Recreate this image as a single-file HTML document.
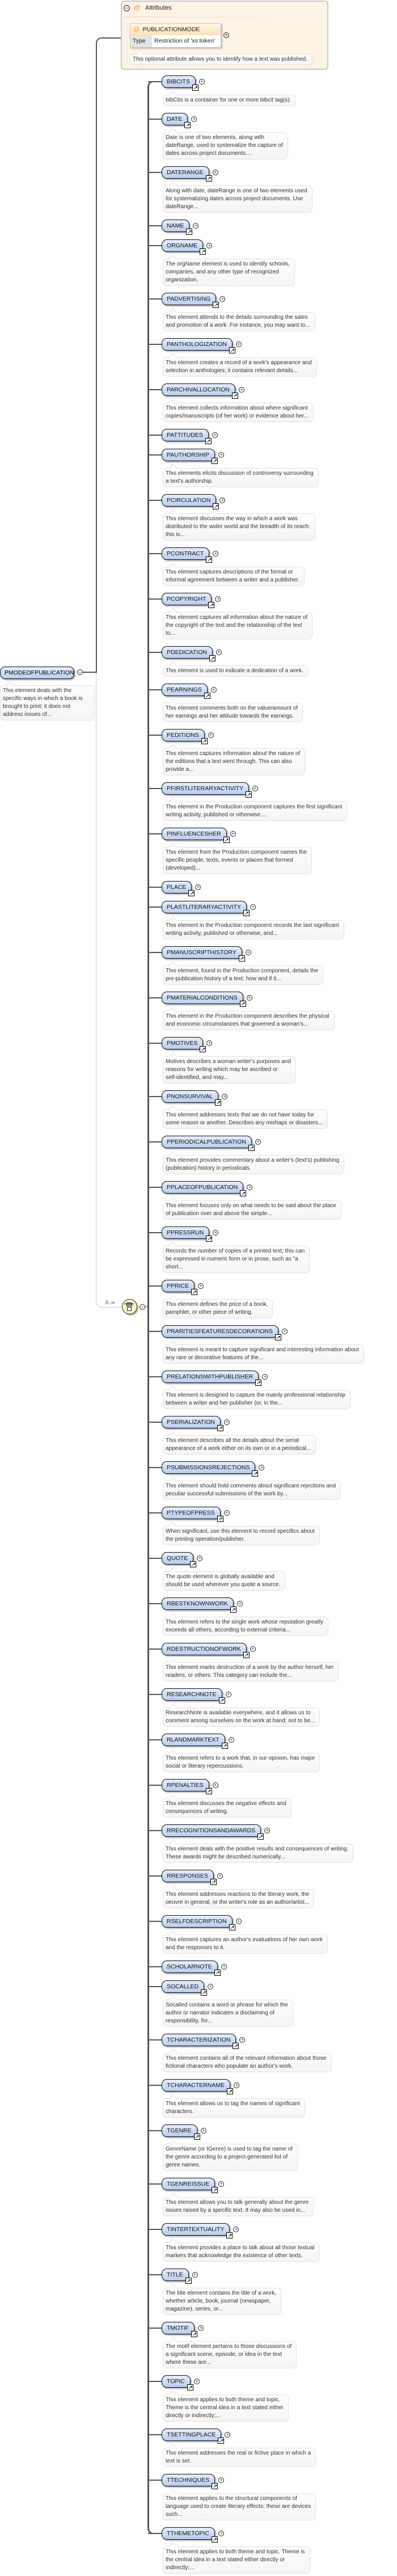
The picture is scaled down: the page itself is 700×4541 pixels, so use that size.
<!DOCTYPE html>
<html><head><meta charset="utf-8">
<style>
html,body{margin:0;padding:0;background:#fff;}
body{width:700px;height:4541px;position:relative;overflow:hidden;font-family:"Liberation Sans",Arial,sans-serif;}
.e{position:absolute;left:285px;height:22px;}
.e:before{content:"";position:absolute;left:-24px;top:10px;width:24px;height:2px;background:#555;}
.b{position:relative;display:inline-block;height:20px;line-height:20px;padding:0 9px 0 8px;border:1px solid #111;border-radius:9px 9px 9px 9px;background:linear-gradient(#e6eefb,#b9cdef);font-size:10.5px;color:#111;white-space:nowrap;box-shadow:2px 2px 2px #aaa;}
.ar{position:absolute;right:-6px;top:15px;width:9px;height:9px;border:1px solid #000;background:#fff;font-size:8px;line-height:9px;text-align:center;font-weight:bold;color:#000;}
.pl{position:absolute;right:-17px;top:5px;width:8px;height:8px;border:1px solid #222;border-radius:50%;background:#fff;font-size:8px;line-height:8px;text-align:center;color:#222;}
.d{position:absolute;left:287px;padding:2px 8px 2px 4px;border:1px solid #e2e2e2;border-radius:7px;background:linear-gradient(#fdfdfd,#f5f5f5);font-size:10px;line-height:14px;color:#333;white-space:nowrap;}
.d:before{content:"";position:absolute;left:12px;top:-6px;width:9px;height:9px;background:#fcfcfc;border-left:1px solid #e2e2e2;border-top:1px solid #e2e2e2;transform:rotate(45deg);}
</style></head><body>

<!-- attributes box -->
<div style="position:absolute;left:213px;top:1px;width:362px;height:118px;background:#fdf3e4;border:2px solid #c9c9c9;border-radius:6px;"></div>
<div style="position:absolute;left:218px;top:9px;width:9px;height:9px;border:1px solid #222;border-radius:50%;font-size:9px;line-height:8px;text-align:center;">−</div>
<div style="position:absolute;left:236px;top:8px;font-size:11px;color:#e8a030;">@</div>
<div style="position:absolute;left:256px;top:8px;font-size:11px;color:#222;">Attributes</div>
<div style="position:absolute;left:218px;top:29px;width:270px;height:2px;background:linear-gradient(90deg,#efe4d2,#fdf3e4);"></div>
<div style="position:absolute;left:229px;top:41px;width:159px;height:41px;border:1px solid #c8c8c8;box-shadow:2px 2px 2px #bbb;background:#fff;">
 <div style="height:20px;background:linear-gradient(#fef6e6,#fde2b4);font-size:10.5px;line-height:20px;color:#222;white-space:nowrap;"><span style="color:#e8a030;margin:0 6px 0 5px;">@</span>PUBLICATIONMODE</div>
 <div style="height:21px;font-size:10.5px;line-height:21px;color:#222;white-space:nowrap;"><span style="display:inline-block;width:34px;background:#e4e4e4;padding-left:4px;margin-right:4px;">Type</span>Restriction of 'xs:token'</div>
</div>
<div style="position:absolute;left:394px;top:57px;width:8px;height:8px;border:1px solid #222;border-radius:50%;font-size:8px;line-height:8px;text-align:center;">+</div>
<div class="d" style="left:229px;top:95px;">This optional attribute allows you to identify how a text was published.</div>

<!-- left connectors -->
<div style="position:absolute;left:169px;top:66px;width:44px;height:1120px;border-left:2px solid #555;border-top:2px solid #555;border-top-left-radius:10px;box-sizing:border-box;"></div>
<div style="position:absolute;left:169px;top:1185px;width:46px;height:1120px;border-left:1px solid #c8c8c8;border-bottom:1px solid #c8c8c8;border-bottom-left-radius:10px;box-sizing:border-box;"></div>
<div style="position:absolute;left:146px;top:1184px;width:24px;height:2px;background:#555;"></div>

<!-- root element -->
<div style="position:absolute;left:0;top:1175px;height:20px;line-height:20px;width:122px;padding-left:7px;border:1px solid #111;border-radius:9px;background:linear-gradient(#e6eefb,#b9cdef);font-size:10.5px;box-shadow:2px 2px 2px #aaa;white-space:nowrap;">PMODEOFPUBLICATION</div>
<div style="position:absolute;left:136px;top:1180px;width:8px;height:8px;border:1px solid #222;border-radius:50%;font-size:9px;line-height:8px;text-align:center;background:#fff;">−</div>
<div class="d" style="left:0;top:1208px;padding-right:20px;">This element deals with the<br>specific ways in which a book is<br>brought to print; it does not<br>address issues of...</div>

<!-- compositor -->
<div style="position:absolute;left:186px;top:2291px;font-size:9px;color:#333;">0..∞</div>
<div style="position:absolute;left:215px;top:2290px;width:25px;height:25px;border:1px solid #333;border-radius:50%;background:#f8f3c6;box-shadow:2px 2px 2px #aaa;"></div>
<div style="position:absolute;left:223px;top:2296px;width:8px;height:5px;background:#999;border:1px solid #444;"></div>
<div style="position:absolute;left:219px;top:2298px;width:17px;height:1px;background:#222;"></div>
<div style="position:absolute;left:224px;top:2304px;width:6px;height:5px;border:1px solid #222;background:#fff;"></div>
<div style="position:absolute;left:246px;top:2299px;width:8px;height:8px;border:1px solid #222;border-radius:50%;font-size:9px;line-height:8px;text-align:center;background:#fff;">−</div>
<div style="position:absolute;left:256px;top:2303px;width:5px;height:1px;background:#555;"></div>

<!-- children vertical line -->
<div style="position:absolute;left:260px;top:143px;width:25px;height:4324px;border-left:3px solid #555;border-top:2px solid #555;border-bottom:2px solid #555;border-radius:10px 0 0 10px;box-sizing:border-box;"></div>

<div class="e" style="top:133px"><span class="b">BIBCITS<i class="ar">↗</i><i class="pl">+</i></span></div>
<div class="d" style="top:167px">bibCits is a container for one or more bibcit tag(s).</div>
<div class="e" style="top:199px"><span class="b">DATE<i class="ar">↗</i><i class="pl">+</i></span></div>
<div class="d" style="top:233px">Date is one of two elements, along with<br>dateRange, used to systematize the capture of<br>dates across project documents....</div>
<div class="e" style="top:293px"><span class="b">DATERANGE<i class="ar">↗</i><i class="pl">+</i></span></div>
<div class="d" style="top:327px">Along with date, dateRange is one of two elements used<br>for systematizing dates across project documents. Use<br>dateRange...</div>
<div class="e" style="top:387px"><span class="b">NAME<i class="ar">↗</i><i class="pl">+</i></span></div>
<div class="e" style="top:422px"><span class="b">ORGNAME<i class="ar">↗</i><i class="pl">+</i></span></div>
<div class="d" style="top:456px">The orgName element is used to identify schools,<br>companies, and any other type of recognized<br>organization.</div>
<div class="e" style="top:516px"><span class="b">PADVERTISING<i class="ar">↗</i><i class="pl">+</i></span></div>
<div class="d" style="top:550px">This element attends to the details surrounding the sales<br>and promotion of a work. For instance, you may want to...</div>
<div class="e" style="top:596px"><span class="b">PANTHOLOGIZATION<i class="ar">↗</i><i class="pl">+</i></span></div>
<div class="d" style="top:630px">This element creates a record of a work's appearance and<br>selection in anthologies; it contains relevant details...</div>
<div class="e" style="top:676px"><span class="b">PARCHIVALLOCATION<i class="ar">↗</i><i class="pl">+</i></span></div>
<div class="d" style="top:710px">This element collects information about where significant<br>copies/manuscripts (of her work) or evidence about her...</div>
<div class="e" style="top:756px"><span class="b">PATTITUDES<i class="ar">↗</i><i class="pl">+</i></span></div>
<div class="e" style="top:791px"><span class="b">PAUTHORSHIP<i class="ar">↗</i><i class="pl">+</i></span></div>
<div class="d" style="top:825px">This elements elicits discussion of controversy surrounding<br>a text's authorship.</div>
<div class="e" style="top:871px"><span class="b">PCIRCULATION<i class="ar">↗</i><i class="pl">+</i></span></div>
<div class="d" style="top:905px">This element discusses the way in which a work was<br>distributed to the wider world and the breadth of its reach:<br>this is...</div>
<div class="e" style="top:965px"><span class="b">PCONTRACT<i class="ar">↗</i><i class="pl">+</i></span></div>
<div class="d" style="top:999px">This element captures descriptions of the formal or<br>informal agreement between a writer and a publisher.</div>
<div class="e" style="top:1045px"><span class="b">PCOPYRIGHT<i class="ar">↗</i><i class="pl">+</i></span></div>
<div class="d" style="top:1079px">This element captures all information about the nature of<br>the copyright of the text and the relationship of the text<br>to...</div>
<div class="e" style="top:1139px"><span class="b">PDEDICATION<i class="ar">↗</i><i class="pl">+</i></span></div>
<div class="d" style="top:1173px">This element is used to indicate a dedication of a work.</div>
<div class="e" style="top:1205px"><span class="b">PEARNINGS<i class="ar">↗</i><i class="pl">+</i></span></div>
<div class="d" style="top:1239px">This element comments both on the value/amount of<br>her earnings and her attitude towards the earnings.</div>
<div class="e" style="top:1285px"><span class="b">PEDITIONS<i class="ar">↗</i><i class="pl">+</i></span></div>
<div class="d" style="top:1319px">This element captures information about the nature of<br>the editions that a text went through. This can also<br>provide a...</div>
<div class="e" style="top:1379px"><span class="b">PFIRSTLITERARYACTIVITY<i class="ar">↗</i><i class="pl">+</i></span></div>
<div class="d" style="top:1413px">This element in the Production component captures the first significant<br>writing activity, published or otherwise....</div>
<div class="e" style="top:1459px"><span class="b">PINFLUENCESHER<i class="ar">↗</i><i class="pl">+</i></span></div>
<div class="d" style="top:1493px">This element from the Production component names the<br>specific people, texts, events or places that formed<br>(developed)...</div>
<div class="e" style="top:1553px"><span class="b">PLACE<i class="ar">↗</i><i class="pl">+</i></span></div>
<div class="e" style="top:1588px"><span class="b">PLASTLITERARYACTIVITY<i class="ar">↗</i><i class="pl">+</i></span></div>
<div class="d" style="top:1622px">This element in the Production component records the last significant<br>writing activity, published or otherwise, and...</div>
<div class="e" style="top:1668px"><span class="b">PMANUSCRIPTHISTORY<i class="ar">↗</i><i class="pl">+</i></span></div>
<div class="d" style="top:1702px">This element, found in the Production component, details the<br>pre-publication history of a text: how and if it...</div>
<div class="e" style="top:1748px"><span class="b">PMATERIALCONDITIONS<i class="ar">↗</i><i class="pl">+</i></span></div>
<div class="d" style="top:1782px">This element in the Production component describes the physical<br>and economic circumstances that governed a woman's...</div>
<div class="e" style="top:1828px"><span class="b">PMOTIVES<i class="ar">↗</i><i class="pl">+</i></span></div>
<div class="d" style="top:1862px">Motives describes a woman writer's purposes and<br>reasons for writing which may be ascribed or<br>self-identified, and may...</div>
<div class="e" style="top:1922px"><span class="b">PNONSURVIVAL<i class="ar">↗</i><i class="pl">+</i></span></div>
<div class="d" style="top:1956px">This element addresses texts that we do not have today for<br>some reason or another. Describes any mishaps or disasters...</div>
<div class="e" style="top:2002px"><span class="b">PPERIODICALPUBLICATION<i class="ar">↗</i><i class="pl">+</i></span></div>
<div class="d" style="top:2036px">This element provides commentary about a writer's (text's) publishing<br>(publication) history in periodicals.</div>
<div class="e" style="top:2082px"><span class="b">PPLACEOFPUBLICATION<i class="ar">↗</i><i class="pl">+</i></span></div>
<div class="d" style="top:2116px">This element focuses only on what needs to be said about the place<br>of publication over and above the simple...</div>
<div class="e" style="top:2162px"><span class="b">PPRESSRUN<i class="ar">↗</i><i class="pl">+</i></span></div>
<div class="d" style="top:2196px">Records the number of copies of a printed text; this can<br>be expressed in numeric form or in prose, such as "a<br>short...</div>
<div class="e" style="top:2256px"><span class="b">PPRICE<i class="ar">↗</i><i class="pl">+</i></span></div>
<div class="d" style="top:2290px">This element defines the price of a book,<br>pamphlet, or other piece of writing.</div>
<div class="e" style="top:2336px"><span class="b">PRARITIESFEATURESDECORATIONS<i class="ar">↗</i><i class="pl">+</i></span></div>
<div class="d" style="top:2370px">This element is meant to capture significant and interesting information about<br>any rare or decorative features of the...</div>
<div class="e" style="top:2416px"><span class="b">PRELATIONSWITHPUBLISHER<i class="ar">↗</i><i class="pl">+</i></span></div>
<div class="d" style="top:2450px">This element is designed to capture the mainly professional relationship<br>between a writer and her publisher (or, in the...</div>
<div class="e" style="top:2496px"><span class="b">PSERIALIZATION<i class="ar">↗</i><i class="pl">+</i></span></div>
<div class="d" style="top:2530px">This element describes all the details about the serial<br>appearance of a work either on its own or in a periodical...</div>
<div class="e" style="top:2576px"><span class="b">PSUBMISSIONSREJECTIONS<i class="ar">↗</i><i class="pl">+</i></span></div>
<div class="d" style="top:2610px">This element should hold comments about significant rejections and<br>peculiar successful submissions of the work by...</div>
<div class="e" style="top:2656px"><span class="b">PTYPEOFPRESS<i class="ar">↗</i><i class="pl">+</i></span></div>
<div class="d" style="top:2690px">When significant, use this element to record specifics about<br>the printing operation/publisher.</div>
<div class="e" style="top:2736px"><span class="b">QUOTE<i class="ar">↗</i><i class="pl">+</i></span></div>
<div class="d" style="top:2770px">The quote element is globally available and<br>should be used wherever you quote a source.</div>
<div class="e" style="top:2816px"><span class="b">RBESTKNOWNWORK<i class="ar">↗</i><i class="pl">+</i></span></div>
<div class="d" style="top:2850px">This element refers to the single work whose reputation greatly<br>exceeds all others, according to external criteria...</div>
<div class="e" style="top:2896px"><span class="b">RDESTRUCTIONOFWORK<i class="ar">↗</i><i class="pl">+</i></span></div>
<div class="d" style="top:2930px">This element marks destruction of a work by the author herself, her<br>readers, or others. This category can include the...</div>
<div class="e" style="top:2976px"><span class="b">RESEARCHNOTE<i class="ar">↗</i><i class="pl">+</i></span></div>
<div class="d" style="top:3010px">ResearchNote is available everywhere, and it allows us to<br>comment among ourselves on the work at hand; not to be...</div>
<div class="e" style="top:3056px"><span class="b">RLANDMARKTEXT<i class="ar">↗</i><i class="pl">+</i></span></div>
<div class="d" style="top:3090px">This element refers to a work that, in our opinion, has major<br>social or literary repercussions.</div>
<div class="e" style="top:3136px"><span class="b">RPENALTIES<i class="ar">↗</i><i class="pl">+</i></span></div>
<div class="d" style="top:3170px">This element discusses the negative effects and<br>consequences of writing.</div>
<div class="e" style="top:3216px"><span class="b">RRECOGNITIONSANDAWARDS<i class="ar">↗</i><i class="pl">+</i></span></div>
<div class="d" style="top:3250px">This element deals with the positive results and consequences of writing.<br>These awards might be described numerically...</div>
<div class="e" style="top:3296px"><span class="b">RRESPONSES<i class="ar">↗</i><i class="pl">+</i></span></div>
<div class="d" style="top:3330px">This element addresses reactions to the literary work, the<br>oeuvre in general, or the writer's role as an author/artist...</div>
<div class="e" style="top:3376px"><span class="b">RSELFDESCRIPTION<i class="ar">↗</i><i class="pl">+</i></span></div>
<div class="d" style="top:3410px">This element captures an author's evaluations of her own work<br>and the responses to it.</div>
<div class="e" style="top:3456px"><span class="b">SCHOLARNOTE<i class="ar">↗</i><i class="pl">+</i></span></div>
<div class="e" style="top:3491px"><span class="b">SOCALLED<i class="ar">↗</i><i class="pl">+</i></span></div>
<div class="d" style="top:3525px">Socalled contains a word or phrase for which the<br>author or narrator indicates a disclaiming of<br>responsibility, for...</div>
<div class="e" style="top:3585px"><span class="b">TCHARACTERIZATION<i class="ar">↗</i><i class="pl">+</i></span></div>
<div class="d" style="top:3619px">This element contains all of the relevant information about those<br>fictional characters who populate an author's work.</div>
<div class="e" style="top:3665px"><span class="b">TCHARACTERNAME<i class="ar">↗</i><i class="pl">+</i></span></div>
<div class="d" style="top:3699px">This element allows us to tag the names of significant<br>characters.</div>
<div class="e" style="top:3745px"><span class="b">TGENRE<i class="ar">↗</i><i class="pl">+</i></span></div>
<div class="d" style="top:3779px">GenreName (or tGenre) is used to tag the name of<br>the genre according to a project-generated list of<br>genre names.</div>
<div class="e" style="top:3839px"><span class="b">TGENREISSUE<i class="ar">↗</i><i class="pl">+</i></span></div>
<div class="d" style="top:3873px">This element allows you to talk generally about the genre<br>issues raised by a specific text. It may also be used in...</div>
<div class="e" style="top:3919px"><span class="b">TINTERTEXTUALITY<i class="ar">↗</i><i class="pl">+</i></span></div>
<div class="d" style="top:3953px">This element provides a place to talk about all those textual<br>markers that acknowledge the existence of other texts.</div>
<div class="e" style="top:3999px"><span class="b">TITLE<i class="ar">↗</i><i class="pl">+</i></span></div>
<div class="d" style="top:4033px">The title element contains the title of a work,<br>whether article, book, journal (newspaper,<br>magazine), series, or...</div>
<div class="e" style="top:4093px"><span class="b">TMOTIF<i class="ar">↗</i><i class="pl">+</i></span></div>
<div class="d" style="top:4127px">The motif element pertains to those discussions of<br>a significant scene, episode, or idea in the text<br>where these are...</div>
<div class="e" style="top:4187px"><span class="b">TOPIC<i class="ar">↗</i><i class="pl">+</i></span></div>
<div class="d" style="top:4221px">This element applies to both theme and topic.<br>Theme is the central idea in a text stated either<br>directly or indirectly;...</div>
<div class="e" style="top:4281px"><span class="b">TSETTINGPLACE<i class="ar">↗</i><i class="pl">+</i></span></div>
<div class="d" style="top:4315px">This element addresses the real or fictive place in which a<br>text is set.</div>
<div class="e" style="top:4361px"><span class="b">TTECHNIQUES<i class="ar">↗</i><i class="pl">+</i></span></div>
<div class="d" style="top:4395px">This element applies to the structural components of<br>language used to create literary effects: these are devices<br>such...</div>
<div class="e" style="top:4455px"><span class="b">TTHEMETOPIC<i class="ar">↗</i><i class="pl">+</i></span></div>
<div class="d" style="top:4489px">This element applies to both theme and topic. Theme is<br>the central idea in a text stated either directly or<br>indirectly;...</div>

</body></html>
